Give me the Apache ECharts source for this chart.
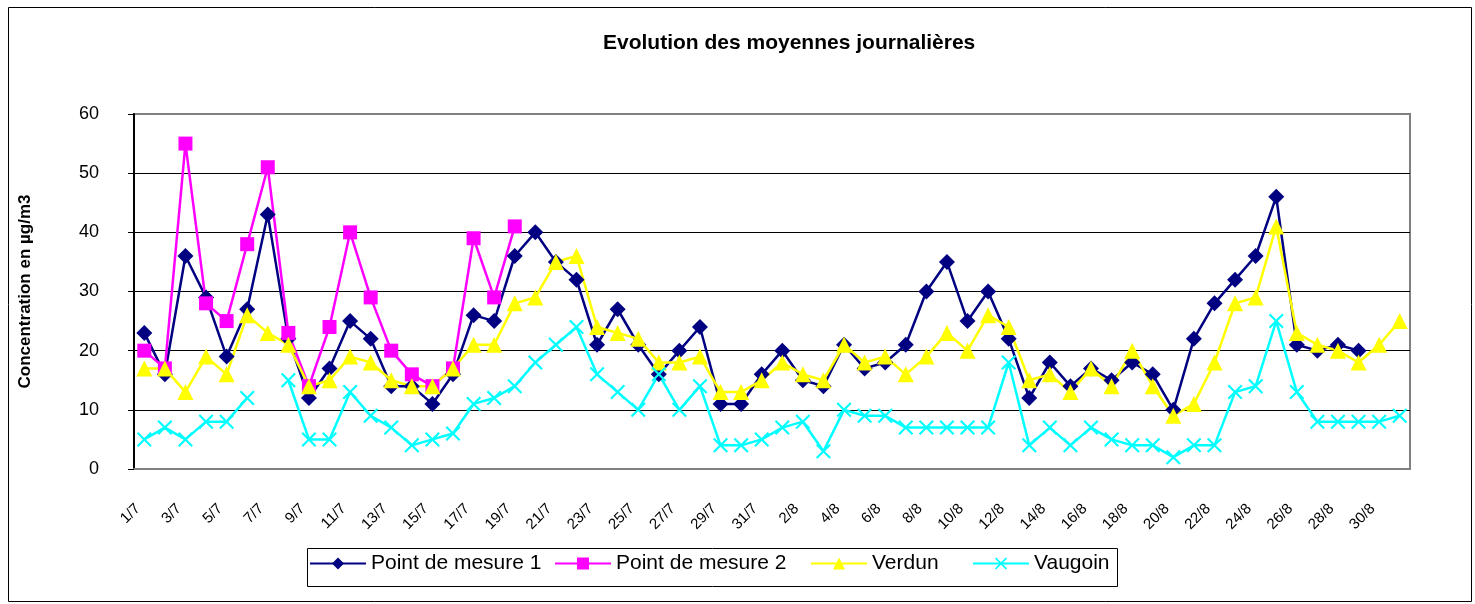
<!DOCTYPE html>
<html>
<head>
<meta charset="utf-8">
<script src="https://cdn.jsdelivr.net/npm/echarts@6/dist/echarts.min.js"></script>
<style>
  html, body { margin: 0; padding: 0; background: #fff; }
  #chart { width: 1475px; height: 604px; }
</style>
</head>
<body>
<div id="chart"></div>
<script>
// daily dates, 1/7 .. 31/8
const days = [];
for (let d = 1; d <= 31; d++) days.push(d + '/7');
for (let d = 1; d <= 31; d++) days.push(d + '/8');

const mesure1 = [23, 16, 36, 29, 19, 27, 43, 22, 12, 17, 25, 22, 14, 14, 11, 16, 26, 25, 36, 40,
  35, 32, 21, 27, 21, 16, 20, 24, 11, 11, 16, 20, 15, 14, 21, 17, 18, 21, 30, 35,
  25, 30, 22, 12, 18, 14, 17, 15, 18, 16, 10, 22, 28, 32, 36, 46, 21, 20, 21, 20, null, null];

const mesure2 = [20, 17, 55, 28, 25, 38, 51, 23, 14, 24, 40, 29, 20, 16, 14, 17, 39, 29, 41];

const verdun = [17, 17, 13, 19, 16, 26, 23, 21, 14, 15, 19, 18, 15, 14, 14, 17, 21, 21, 28, 29,
  35, 36, 24, 23, 22, 18, 18, 19, 13, 13, 15, 18, 16, 15, 21, 18, 19, 16, 19, 23,
  20, 26, 24, 15, 16, 13, 17, 14, 20, 14, 9, 11, 18, 28, 29, 41, 23, 21, 20, 18, 21, 25];

const vaugoin = [5, 7, 5, 8, 8, 12, null, 15, 5, 5, 13, 9, 7, 4, 5, 6, 11, 12, 14, 18,
  21, 24, 16, 13, 10, 16, 10, 14, 4, 4, 5, 7, 8, 3, 10, 9, 9, 7, 7, 7,
  7, 7, 18, 4, 7, 4, 7, 5, 4, 4, 2, 4, 4, 13, 14, 25, 13, 8, 8, 8, 8, 9];

const seriesNames = ['Point de mesure 1', 'Point de mesure 2', 'Verdun', 'Vaugoin'];

const font = '"Liberation Sans", Arial, sans-serif';
const crossPath = 'path://M0,1L1,0L5,4L9,0L10,1L6,5L10,9L9,10L5,6L1,10L0,9L4,5Z';

function lineSeries(name, data, color, symbol, size) {
  return {
    name: name,
    type: 'line',
    data: data,
    symbol: symbol,
    symbolSize: size,
    showAllSymbol: true,
    connectNulls: false,
    lineStyle: { color: color, width: 2.5 },
    itemStyle: { color: color, borderWidth: 0 }
  };
}

// one legend per entry so each slot sits where the spreadsheet legend puts it
const legendLeft = [309, 554, 810, 972];
const legends = seriesNames.map((n, i) => ({
  left: legendLeft[i],
  top: 553,
  padding: 0,
  itemWidth: 56,
  itemHeight: 15,
  textStyle: { fontFamily: font, fontSize: 21, color: '#000' },
  data: [n]
}));

const chart = echarts.init(document.getElementById('chart'), null, { renderer: 'canvas' });
chart.setOption({
  animation: false,
  backgroundColor: '#fff',
  textStyle: { fontFamily: font },
  title: {
    text: 'Evolution des moyennes journalières',
    left: 598,
    top: 28,
    textStyle: { fontFamily: font, fontSize: 21, fontWeight: 'bold', color: '#000' }
  },
  graphic: [{
    type: 'rect',
    left: 6, top: 5,
    shape: { width: 1463, height: 594 },
    style: { fill: 'none', stroke: '#000', lineWidth: 1 },
    silent: true
  }, {
    type: 'rect',
    left: 305, top: 546,
    shape: { width: 810, height: 38 },
    style: { fill: 'none', stroke: '#000', lineWidth: 1 },
    silent: true
  }],
  legend: legends,
  grid: {
    left: 134, right: 65, top: 114, bottom: 135,
    show: true,
    borderColor: '#808080',
    borderWidth: 2
  },
  xAxis: {
    type: 'category',
    data: days,
    boundaryGap: true,
    axisLine: { lineStyle: { color: '#808080', width: 2 } },
    axisTick: { interval: 1, length: 6, lineStyle: { color: '#000', width: 1 } },
    axisLabel: {
      interval: 1,
      rotate: 45,
      margin: 31,
      padding: [0, 9, 0, 0],
      fontSize: 15,
      color: '#000',
      fontFamily: font
    },
    splitLine: { show: false }
  },
  yAxis: {
    type: 'value',
    min: 0,
    max: 60,
    interval: 10,
    name: 'Concentration en µg/m3',
    nameLocation: 'middle',
    nameRotate: 90,
    nameGap: 100,
    nameTextStyle: { fontFamily: font, fontSize: 17, fontWeight: 'bold', color: '#000' },
    axisLine: { show: true, lineStyle: { color: '#000', width: 2 } },
    axisTick: { show: true, length: 6, lineStyle: { color: '#000' } },
    axisLabel: { fontSize: 18, color: '#000', margin: 35, fontFamily: font },
    splitLine: {
      show: true,
      lineStyle: { color: ['#000', '#000', '#000', '#000', '#000', '#000', '#808080'], width: 1 }
    }
  },
  series: [
    lineSeries(seriesNames[0], mesure1, '#000080', 'diamond', 16),
    lineSeries(seriesNames[1], mesure2, '#ff00ff', 'rect', 14),
    lineSeries(seriesNames[2], verdun, '#ffff00', 'triangle', 16),
    lineSeries(seriesNames[3], vaugoin, '#00ffff', crossPath, 15)
  ]
});
</script>
</body>
</html>
